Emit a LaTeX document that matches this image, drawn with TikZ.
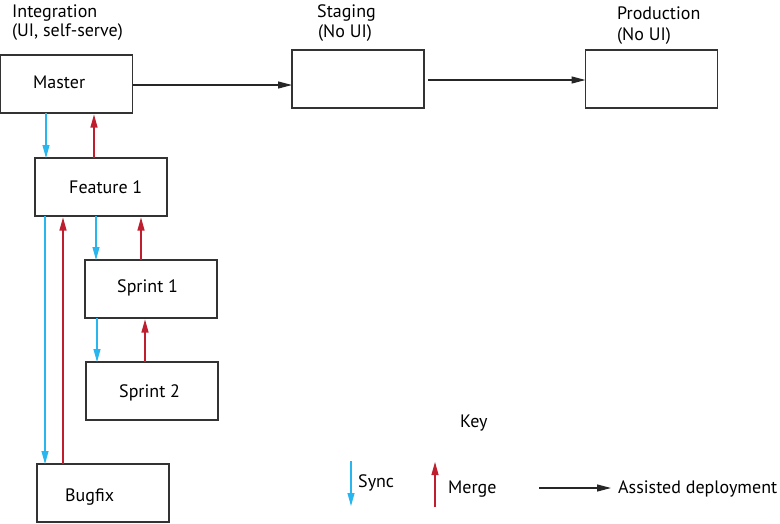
\documentclass[tikz,border=0pt]{standalone}
\usepackage{fontspec}
\setmainfont{PT Sans}
\usetikzlibrary{arrows.meta}
\definecolor{syncblue}{RGB}{41,182,238}
\definecolor{mergered}{RGB}{190,30,45}
\tikzset{
  box/.style={draw=black!80, line width=1.2pt, minimum width=132pt, minimum height=58pt, inner sep=0pt, outer sep=0pt},
  txt/.style={anchor=base west, inner sep=0pt, font=\fontsize{18}{21}\selectfont},
  sync/.style={draw=syncblue, line width=1.1pt, -{Triangle[length=13pt,width=7pt]}},
  merge/.style={draw=mergered, line width=1.1pt, -{Triangle[length=13pt,width=7pt]}, shorten >=1.5pt},
  deploy/.style={draw=black!85, line width=1.2pt, -{Triangle[length=14pt,width=7pt]}},
}
\begin{document}
\begin{tikzpicture}[x=1pt,y=-1pt]
\useasboundingbox (0,0) rectangle (780,523);
% boxes
\node[box] (master) at (66.5,84) {};
\node[box] (feat) at (101,187) {};
\node[box] (stag) at (358,79) {};
\node[box] (prod) at (651.5,79) {};
\node[box] (spr1) at (151,289) {};
\node[box] (spr2) at (152,391) {};
\node[box] (bug) at (103,493) {};
% texts
\node[txt] (intA) at (12,17) {Integration};
\node[txt] (intB) at (12,36) {(UI, self-serve)};
\node[txt] (stA) at (317,17) {Staging};
\node[txt] (stB) at (318,37) {(No UI)};
\node[txt] (prA) at (617,19) {Production};
\node[txt] (prB) at (617,40) {(No UI)};
\node[txt] (masterT) at (33,88) {Master};
\node[txt] (featT) at (69,193) {Feature 1};
\node[txt] (spr1T) at (117,292) {Sprint 1};
\node[txt] (spr2T) at (119,397) {Sprint 2};
\node[txt] (bugT) at (65,501) {Bugfix};
% deployment arrows
\draw[deploy] ([yshift=-1pt]master.east) -- ([yshift=-6pt]stag.west);
\draw[deploy] ([xshift=4pt,yshift=-1pt]stag.east) -- ([yshift=-1pt]prod.west);
% sync / merge
\draw[sync] ([xshift=45.5pt]master.south west) -- ([xshift=45.5pt]master.south west |- feat.north);
\draw[merge] ([xshift=59pt]feat.north west) -- ([xshift=59pt]feat.north west |- master.south);
\draw[sync] ([xshift=10pt]feat.south west) -- ([xshift=10pt]feat.south west |- bug.north);
\draw[merge] ([xshift=26pt]bug.north west) -- ([xshift=26pt]bug.north west |- feat.south);
\draw[sync] ([xshift=61pt]feat.south west) -- ([xshift=61pt]feat.south west |- spr1.north);
\draw[merge] ([xshift=56pt]spr1.north west) -- ([xshift=56pt]spr1.north west |- feat.south);
\draw[sync] ([xshift=12pt]spr1.south west) -- ([xshift=12pt]spr1.south west |- spr2.north);
\draw[merge] ([xshift=59pt]spr2.north west) -- ([xshift=59pt]spr2.north west |- spr1.south);
% key
\node[txt] (keyT) at (460,427) {Key};
\coordinate (ks1) at (351,461);
\coordinate (ks2) at (351,506);
\draw[sync] (ks1) -- (ks2);
\node[txt] (syncT) at (358,487) {Sync};
\coordinate (km1) at (435,507);
\coordinate (km2) at (435,462);
\draw[merge, shorten >=0pt] (km1) -- (km2);
\node[txt] (mergeT) at (448,493) {Merge};
\coordinate (kd1) at (539,488);
\coordinate (kd2) at (611,488);
\draw[deploy] (kd1) -- (kd2);
\node[txt] (deplT) at (618,493) {Assisted deployment};
\end{tikzpicture}
\end{document}
